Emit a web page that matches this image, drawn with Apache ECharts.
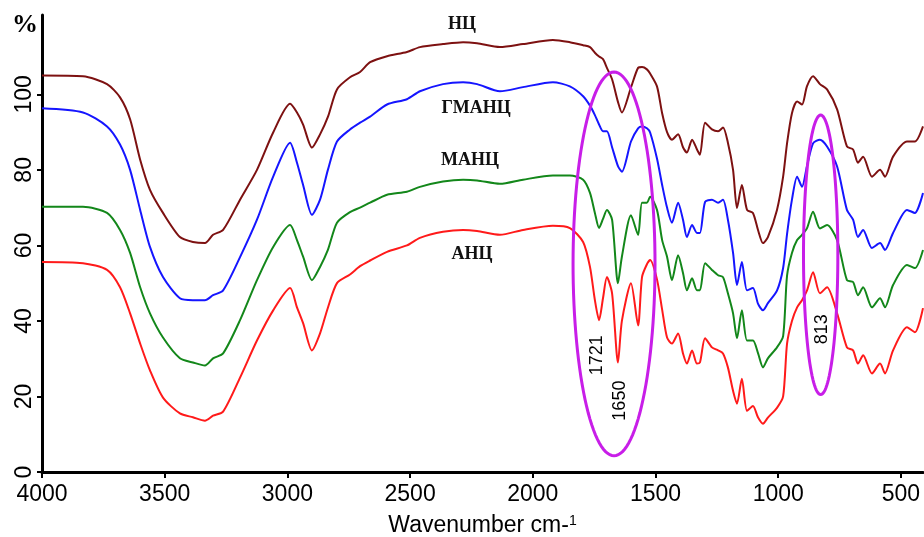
<!DOCTYPE html>
<html>
<head>
<meta charset="utf-8">
<script src="https://cdn.jsdelivr.net/npm/echarts@6/dist/echarts.min.js"></script>
<style>
  html, body { margin: 0; padding: 0; background: #fff; }
  #chart { width: 924px; height: 537px; }
</style>
</head>
<body>
<div id="chart"></div>
<script>
// wavenumber grid, cm-1
const wavenumbers = [
  4000, 3833, 3735, 3682, 3641, 3600, 3560, 3507, 3438, 3385,
  3336, 3303, 3262, 3193, 3124, 3058, 2989, 2961, 2936, 2900,
  2867, 2835, 2798, 2745, 2704, 2663, 2594, 2513, 2460, 2366,
  2284, 2227, 2134, 2040, 1918, 1849, 1795, 1767, 1747, 1730,
  1714, 1698, 1677, 1653, 1637, 1600, 1571, 1555, 1535, 1522,
  1494, 1473, 1453, 1433, 1408, 1388, 1372, 1351, 1331, 1319,
  1298, 1270, 1245, 1225, 1205, 1184, 1168, 1148, 1127, 1103,
  1082, 1062, 1042, 1005, 980, 964, 944, 923, 903, 883,
  858, 830, 801, 760, 720, 695, 675, 654, 618, 585,
  565, 532, 475, 443, 410
];

const nc = [
  105, 104.8, 102.7, 99.2, 93.4, 82.7, 74.7, 68.6, 62.2, 60.9,
  60.6, 62.8, 64.1, 72.1, 80, 89.9, 97.5, 95.2, 92, 85.9,
  89.4, 94, 101.3, 104.5, 105.9, 108.5, 110.1, 111.2, 112.5, 113.3,
  113.8, 113.5, 112.5, 113.3, 114.4, 113.8, 113, 112.5, 111, 110,
  109.3, 107, 104, 98, 95.2, 101.8, 107, 107.2, 106.6, 105.5,
  102.1, 95, 90, 88, 89.4, 86, 84.6, 88, 85.4, 84,
  92.5, 90.7, 90.2, 91.2, 87.2, 80, 69.9, 76, 69.4, 68.6,
  64, 60.6, 62.2, 69.4, 78.2, 87, 95, 98.1, 97.3, 102.1,
  104.8, 102.7, 101.3, 96, 86.2, 85.4, 81.9, 83.5, 78.2, 80,
  78.2, 83.5, 87.5, 87.5, 91.5
];

const gmanc = [
  96.3, 95.2, 91.5, 86.7, 80, 69.4, 59.6, 51.6, 46, 45.5,
  45.5, 46.8, 48.1, 56.9, 66.8, 78.2, 87.2, 81.9, 76, 68.1,
  72.1, 80, 87.5, 90.7, 92.5, 94.1, 97.3, 98.7, 100.8, 102.7,
  103.2, 102.7, 100.8, 101.9, 103.2, 102.1, 99.5, 97, 94.5, 92,
  90.2, 90.2, 86, 81, 79.5, 87.5, 91, 91.5, 91, 89.9,
  83, 76, 70, 66, 71.3, 66.8, 62.2, 65.4, 63.3, 63.3,
  71.5, 72.1, 71.3, 72.1, 66.8, 58, 49.5, 55.6, 48.1, 48.7,
  44.5, 42.8, 44.7, 48, 54, 63, 72.1, 78.2, 75.5, 80.9,
  87, 88, 86.2, 80.9, 69.4, 66.8, 62.2, 64.1, 59.3, 60.6,
  58.8, 63.3, 69.4, 68.6, 73.9
];

const manc = [
  70.2, 70.2, 68.6, 64.1, 58, 48.9, 42, 35.6, 30.1, 29,
  28.2, 30.1, 31.4, 40.2, 50.8, 59.6, 65.4, 61.4, 57, 50.8,
  54.3, 58.8, 66, 68.8, 70, 71.3, 73.4, 74.2, 75.5, 76.9,
  77.4, 77.2, 76.3, 77.4, 78.5, 78.5, 77.4, 73.9, 68.6, 64.6,
  67, 69.4, 66.8, 50, 57, 68, 62.8, 71.3, 71.3, 72.9,
  69.4, 61.4, 57, 50.8, 57.4, 52.7, 48.1, 51.3, 48.1, 48.1,
  55.3, 53.5, 52.1, 51.6, 47.3, 42, 35.4, 42.8, 34.8, 34.8,
  31.4, 27.7, 30.1, 33, 36, 52, 58, 61.4, 62.8, 64.5,
  68.9, 64.5, 65.4, 61.4, 50.8, 50.3, 46.8, 48.9, 43.6, 46,
  43.6, 49.5, 54.8, 54, 58.8
];

const anc = [
  55.6, 55.3, 53.5, 48.9, 42, 34, 26.9, 19.7, 15.5, 14.5,
  13.6, 14.9, 16, 25, 34.8, 42.8, 48.7, 43.6, 39.4, 32.2,
  36.7, 43.5, 50, 52.3, 54.5, 56, 58.3, 60, 62, 63.6,
  64.1, 63.8, 62.8, 64.1, 65.2, 64.6, 60.9, 54.3, 45.5, 40.2,
  46, 51.6, 47.3, 29, 40, 50, 38.8, 51.6, 55, 56.1,
  51, 43, 35.6, 34, 36.7, 31.4, 28.7, 32.2, 28.7, 29,
  35.4, 33, 32.2, 31.4, 27.7, 21.5, 18.1, 24.7, 16.2, 17.5,
  14.4, 12.8, 14.4, 17, 20, 34, 40, 43.6, 45.5, 48,
  52.9, 47.3, 48.9, 42, 33, 32.2, 28.7, 30.9, 26.1, 28.7,
  26.1, 32.2, 38.3, 37, 43.4
];

const xTicks = [4000, 3500, 3000, 2500, 2000, 1500, 1000, 500];
const yTicks = [0, 20, 40, 60, 80, 100];

// curve names: [wavenumber, value, text]
const curveLabels = [
  [2289, 118.6, "НЦ"],
  [2231, 96.3, "ГМАНЦ"],
  [2256, 82.5, "МАНЦ"],
  [2248, 57.7, "АНЦ"],
];

// band marks: [wavenumber, value, text]
const bandLabels = [
  [1738, 30.9, "1721"],
  [1645, 18.9, "1650"],
  [822, 37.8, "813"],
];

// ellipses: [center wn, center value, half width (cm-1), half height (%)]
const ellipses = [
  [1669, 55.1, 167, 50.8],
  [827, 57.5, 70, 37],
];

const COLORS = {
  nc: "#7d1111",
  gmanc: "#1515ff",
  manc: "#13871a",
  anc: "#ff1a1a",
};

const zip = vals => wavenumbers.map((w, i) => [w, vals[i]]);

const chart = echarts.init(document.getElementById("chart"));

function lineSeries(name, vals, color) {
  return {
    name,
    type: "line",
    smooth: 0.25,
    showSymbol: false,
    lineStyle: { color, width: 2 },
    data: zip(vals),
    z: 3,
  };
}

chart.setOption({
  animation: false,
  grid: { left: 42, right: 1, top: 15, bottom: 65, outerBoundsMode: "none", containLabel: false },
  xAxis: {
    type: "value",
    min: 410,
    max: 4000,
    inverse: true,
    name: "Wavenumber cm-{sup|1}",
    nameLocation: "middle",
    nameGap: 42,
    nameTextStyle: {
      fontFamily: "Liberation Sans",
      fontSize: 23,
      color: "#000",
      rich: { sup: { fontSize: 14, verticalAlign: "top", padding: [0, 0, 10, 0], fontFamily: "Liberation Sans" } },
    },
    splitLine: { show: false },
    axisLine: { lineStyle: { color: "#000", width: 3 } },
    axisTick: { customValues: xTicks, length: 6, lineStyle: { color: "#000", width: 2 } },
    axisLabel: {
      customValues: xTicks,
      formatter: v => String(v),
      color: "#000",
      fontSize: 23,
      fontFamily: "Liberation Sans",
      margin: 11,
    },
  },
  yAxis: {
    type: "value",
    min: 0,
    max: 121,
    splitLine: { show: false },
    axisLine: { show: true, lineStyle: { color: "#000", width: 3 } },
    axisTick: { show: true, customValues: yTicks, length: 5, lineStyle: { color: "#000", width: 2 } },
    axisLabel: {
      customValues: yTicks,
      formatter: v => String(v),
      rotate: 90,
      color: "#000",
      fontSize: 23,
      fontFamily: "Liberation Sans",
      margin: 6,
    },
  },
  graphic: [{
    type: "text",
    left: 12,
    top: 12,
    style: { text: "%", font: "bold 26px 'Liberation Serif'", fill: "#000" },
  }],
  series: [
    lineSeries("НЦ", nc, COLORS.nc),
    lineSeries("ГМАНЦ", gmanc, COLORS.gmanc),
    lineSeries("МАНЦ", manc, COLORS.manc),
    lineSeries("АНЦ", anc, COLORS.anc),
    {
      type: "custom",
      data: ellipses,
      z: 5,
      renderItem: (params, api) => {
        const c = api.coord([api.value(0), api.value(1)]);
        const e = api.coord([api.value(0) + api.value(2), api.value(1) + api.value(3)]);
        const rx = Math.abs(e[0] - c[0]);
        const ry = Math.abs(e[1] - c[1]);
        const pts = [];
        for (let i = 0; i < 120; i++) {
          const t = (i / 120) * Math.PI * 2;
          pts.push([c[0] + rx * Math.cos(t), c[1] + ry * Math.sin(t)]);
        }
        return {
          type: "polygon",
          shape: { points: pts },
          style: { fill: "none", stroke: "#c81ee8", lineWidth: 3 },
        };
      },
    },
    {
      type: "custom",
      data: bandLabels,
      z: 6,
      renderItem: (params, api) => {
        const p = api.coord([api.value(0), api.value(1)]);
        return {
          type: "text",
          x: p[0],
          y: p[1],
          rotation: Math.PI / 2,
          style: {
            text: bandLabels[params.dataIndex][2],
            font: "18px 'Liberation Sans'",
            fill: "#000",
            align: "center",
            verticalAlign: "middle",
          },
        };
      },
    },
    {
      type: "custom",
      data: curveLabels,
      z: 6,
      renderItem: (params, api) => {
        const p = api.coord([api.value(0), api.value(1)]);
        return {
          type: "text",
          x: p[0],
          y: p[1],
          style: {
            text: curveLabels[params.dataIndex][2],
            font: "bold 18px 'Liberation Serif'",
            fill: "#111",
            align: "center",
            verticalAlign: "middle",
          },
        };
      },
    },
  ],
});
</script>
</body>
</html>
